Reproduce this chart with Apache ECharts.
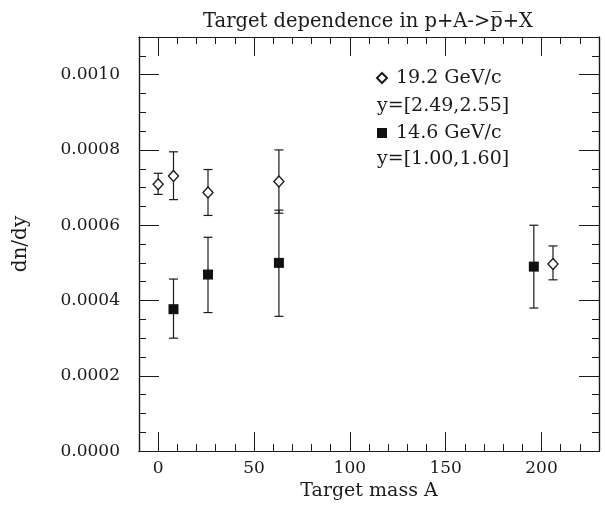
<!DOCTYPE html>
<html>
<head>
<meta charset="utf-8">
<script src="https://cdn.jsdelivr.net/npm/echarts@6/dist/echarts.min.js"></script>
<style>
  html, body { margin: 0; padding: 0; background: #fff; }
  #chart { width: 605px; height: 506px; }
</style>
</head>
<body>
<div id="chart"></div>
<script>
// 19.2 GeV/c, y=[2.49,2.55] (open diamonds)
const massHigh = [0, 8, 26, 63, 206]
const dndyHigh = [0.000709, 0.000731, 0.000687, 0.000716, 0.000497]
const errLowHigh = [0.000682, 0.000668, 0.000626, 0.000632, 0.000455]
const errUpHigh = [0.000738, 0.000795, 0.000748, 0.000800, 0.000545]

// 14.6 GeV/c, y=[1.00,1.60] (filled squares)
const massLow = [8, 26, 63, 196]
const dndyLow = [0.000377, 0.000469, 0.000500, 0.000490]
const errLowLow = [0.000300, 0.000368, 0.000358, 0.000380]
const errUpLow = [0.000457, 0.000568, 0.000640, 0.000600]

const xMajor = [0, 50, 100, 150, 200]
const xMinor = [10, 20, 30, 40, 60, 70, 80, 90, 110, 120, 130, 140, 160, 170, 180, 190, 210, 220]
const yMajor = [0, 0.0002, 0.0004, 0.0006, 0.0008, 0.0010]
const yMinor = [0.00005, 0.0001, 0.00015, 0.00025, 0.0003, 0.00035, 0.00045, 0.0005, 0.00055,
  0.00065, 0.0007, 0.00075, 0.00085, 0.0009, 0.00095, 0.00105]

const font = "DejaVu Serif"
const ink = "#1a1a1a"

const chart = echarts.init(document.getElementById("chart"))

function xAxisDef(position, ticks, len, showLabel, showName) {
  return {
    type: "value",
    position,
    min: -10,
    max: 230,
    axisLine: { show: true, onZero: false, lineStyle: { color: ink, width: 1.2 } },
    axisTick: { show: true, inside: true, length: len, customValues: ticks, lineStyle: { color: ink, width: 1 } },
    axisLabel: {
      show: showLabel,
      customValues: ticks,
      margin: 9,
      fontFamily: font,
      fontSize: 17,
      color: ink
    },
    splitLine: { show: false },
    name: showName ? "Target mass A" : "",
    nameLocation: "middle",
    nameGap: 30,
    nameTextStyle: { fontFamily: font, fontSize: 19, color: ink }
  }
}

function yAxisDef(position, ticks, len, showLabel, showName) {
  return {
    type: "value",
    position,
    min: 0,
    max: 0.0011,
    axisLine: { show: true, onZero: false, lineStyle: { color: ink, width: 1.2 } },
    axisTick: { show: true, inside: true, length: len, customValues: ticks, lineStyle: { color: ink, width: 1 } },
    axisLabel: {
      show: showLabel,
      customValues: ticks,
      margin: 19,
      fontFamily: font,
      fontSize: 17,
      color: ink,
      formatter: v => v.toFixed(4)
    },
    splitLine: { show: false },
    name: showName ? "dn/dy" : "",
    nameLocation: "middle",
    nameGap: 108,
    nameRotate: 90,
    nameTextStyle: { fontFamily: font, fontSize: 20, color: ink }
  }
}

function errorBars(xs, lows, highs) {
  return {
    type: "custom",
    xAxisIndex: 0,
    yAxisIndex: 0,
    z: 1,
    silent: true,
    data: xs.map((x, i) => [x, lows[i], highs[i]]),
    renderItem(params, api) {
      const lo = api.coord([api.value(0), api.value(1)])
      const hi = api.coord([api.value(0), api.value(2)])
      const w = 4.5
      const style = { stroke: ink, lineWidth: 1.2 }
      return {
        type: "group",
        children: [
          { type: "line", shape: { x1: lo[0], y1: lo[1], x2: hi[0], y2: hi[1] }, style },
          { type: "line", shape: { x1: lo[0] - w, y1: lo[1], x2: lo[0] + w, y2: lo[1] }, style },
          { type: "line", shape: { x1: hi[0] - w, y1: hi[1], x2: hi[0] + w, y2: hi[1] }, style }
        ]
      }
    }
  }
}

chart.setOption({
  backgroundColor: "#fff",
  animation: false,
  title: {
    text: "Target dependence in p+A->p\u0305+X",
    left: 363,
    textAlign: "center",
    top: 7,
    textStyle: { fontFamily: font, fontSize: 19.5, fontWeight: "normal", color: ink }
  },
  grid: { left: 139, right: 6, top: 37, bottom: 50 },
  xAxis: [
    xAxisDef("bottom", xMajor, 19, true, true),
    xAxisDef("bottom", xMinor, 7, false, false),
    xAxisDef("top", xMajor, 19, false, false),
    xAxisDef("top", xMinor, 7, false, false)
  ],
  yAxis: [
    yAxisDef("left", yMajor, 20, true, true),
    yAxisDef("left", yMinor, 7, false, false),
    yAxisDef("right", yMajor, 20, false, false),
    yAxisDef("right", yMinor, 7, false, false)
  ],
  legend: {
    left: 371,
    top: 62,
    orient: "vertical",
    itemGap: 33,
    itemWidth: 10,
    itemHeight: 10,
    data: ["19.2 GeV/c", "14.6 GeV/c"],
    textStyle: { fontFamily: font, fontSize: 19, color: ink, lineHeight: 22, padding: [0, 0, 0, 4] }
  },
  graphic: [
    { type: "text", left: 377, top: 97, style: { text: "y=[2.49,2.55]", font: "19px " + font, fill: ink } },
    { type: "text", left: 377, top: 150, style: { text: "y=[1.00,1.60]", font: "19px " + font, fill: ink } }
  ],
  series: [
    errorBars(massHigh, errLowHigh, errUpHigh),
    errorBars(massLow, errLowLow, errUpLow),
    {
      name: "19.2 GeV/c",
      type: "scatter",
      z: 3,
      symbol: "diamond",
      symbolSize: [10, 11],
      itemStyle: { color: "#fff", borderColor: ink, borderWidth: 1.4, opacity: 1 },
      data: massHigh.map((x, i) => [x, dndyHigh[i]])
    },
    {
      name: "14.6 GeV/c",
      type: "scatter",
      z: 3,
      symbol: "rect",
      symbolSize: 10,
      itemStyle: { color: "#111", opacity: 1 },
      data: massLow.map((x, i) => [x, dndyLow[i]])
    }
  ]
})
</script>
</body>
</html>
